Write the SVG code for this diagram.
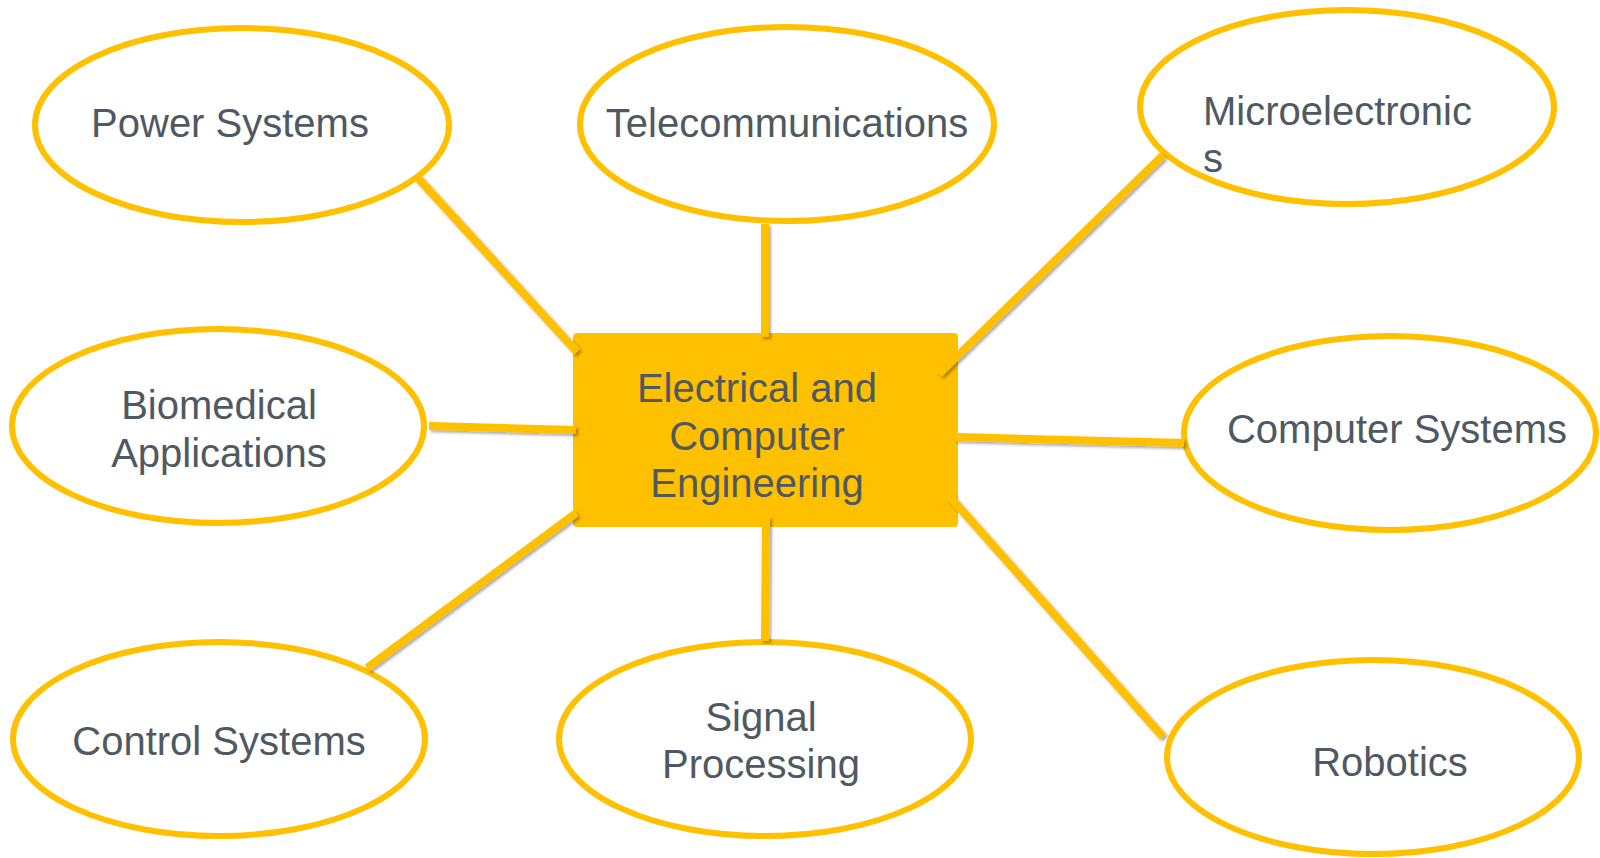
<svg xmlns="http://www.w3.org/2000/svg" width="1600" height="858" viewBox="0 0 1600 858">
  <style>
    .bubble { fill: #ffffff; stroke: #FFC000; stroke-width: 6; }
    .hub { fill: #FFC000; }
    .label { font-family: "Liberation Sans", Arial, sans-serif; font-size: 40px; fill: #4f5961; }
    .mid { text-anchor: middle; }
    .link { stroke: #FFC000; stroke-width: 8; fill: none; stroke-linecap: butt; }
  </style>
  <defs>
    <filter id="shadow" x="-20%" y="-20%" width="140%" height="140%">
      <feDropShadow dx="2" dy="2" stdDeviation="1.5" flood-color="#000000" flood-opacity="0.35"/>
    </filter>
  </defs>

  <rect width="1600" height="858" fill="#ffffff"/>

  <!-- Central hub -->
  <g id="hub">
    <rect class="hub" x="573" y="333" width="385" height="194" rx="4"/>
    <text class="label mid" x="757" y="402">Electrical and</text>
    <text class="label mid" x="757" y="450">Computer</text>
    <text class="label mid" x="757" y="497">Engineering</text>
  </g>

  <!-- Outer topic bubbles -->
  <g id="power-systems">
    <ellipse class="bubble" cx="242" cy="125" rx="207" ry="97"/>
    <text class="label mid" x="230" y="137">Power Systems</text>
  </g>
  <g id="telecommunications">
    <ellipse class="bubble" cx="787" cy="124" rx="207" ry="97"/>
    <text class="label mid" x="787" y="137">Telecommunications</text>
  </g>
  <g id="microelectronics">
    <ellipse class="bubble" cx="1347" cy="107" rx="207" ry="97"/>
    <text class="label" x="1203" y="125">Microelectronic</text>
    <text class="label" x="1203" y="172">s</text>
  </g>
  <g id="biomedical-applications">
    <ellipse class="bubble" cx="218" cy="426" rx="206" ry="97"/>
    <text class="label mid" x="219" y="419">Biomedical</text>
    <text class="label mid" x="219" y="467">Applications</text>
  </g>
  <g id="computer-systems">
    <ellipse class="bubble" cx="1390" cy="433" rx="206" ry="97"/>
    <text class="label mid" x="1397" y="443">Computer Systems</text>
  </g>
  <g id="control-systems">
    <ellipse class="bubble" cx="219" cy="739" rx="206" ry="97"/>
    <text class="label mid" x="219" y="755">Control Systems</text>
  </g>
  <g id="signal-processing">
    <ellipse class="bubble" cx="765" cy="739" rx="206" ry="97"/>
    <text class="label mid" x="761" y="731">Signal</text>
    <text class="label mid" x="761" y="778">Processing</text>
  </g>
  <g id="robotics">
    <ellipse class="bubble" cx="1373" cy="757" rx="206" ry="97"/>
    <text class="label mid" x="1390" y="776">Robotics</text>
  </g>

  <!-- Spokes from hub to each topic -->
  <g id="connectors" filter="url(#shadow)">
    <line class="link" x1="417" y1="177" x2="577" y2="352"/>
    <line class="link" x1="765" y1="224" x2="765" y2="337"/>
    <line class="link" x1="1163" y1="155" x2="939" y2="374"/>
    <line class="link" x1="429" y1="426" x2="576" y2="430"/>
    <line class="link" x1="955" y1="437" x2="1184" y2="443"/>
    <line class="link" x1="367" y1="668" x2="576" y2="513"/>
    <line class="link" x1="766" y1="517" x2="765" y2="641"/>
    <line class="link" x1="950" y1="497" x2="1163" y2="737"/>
  </g>
</svg>
